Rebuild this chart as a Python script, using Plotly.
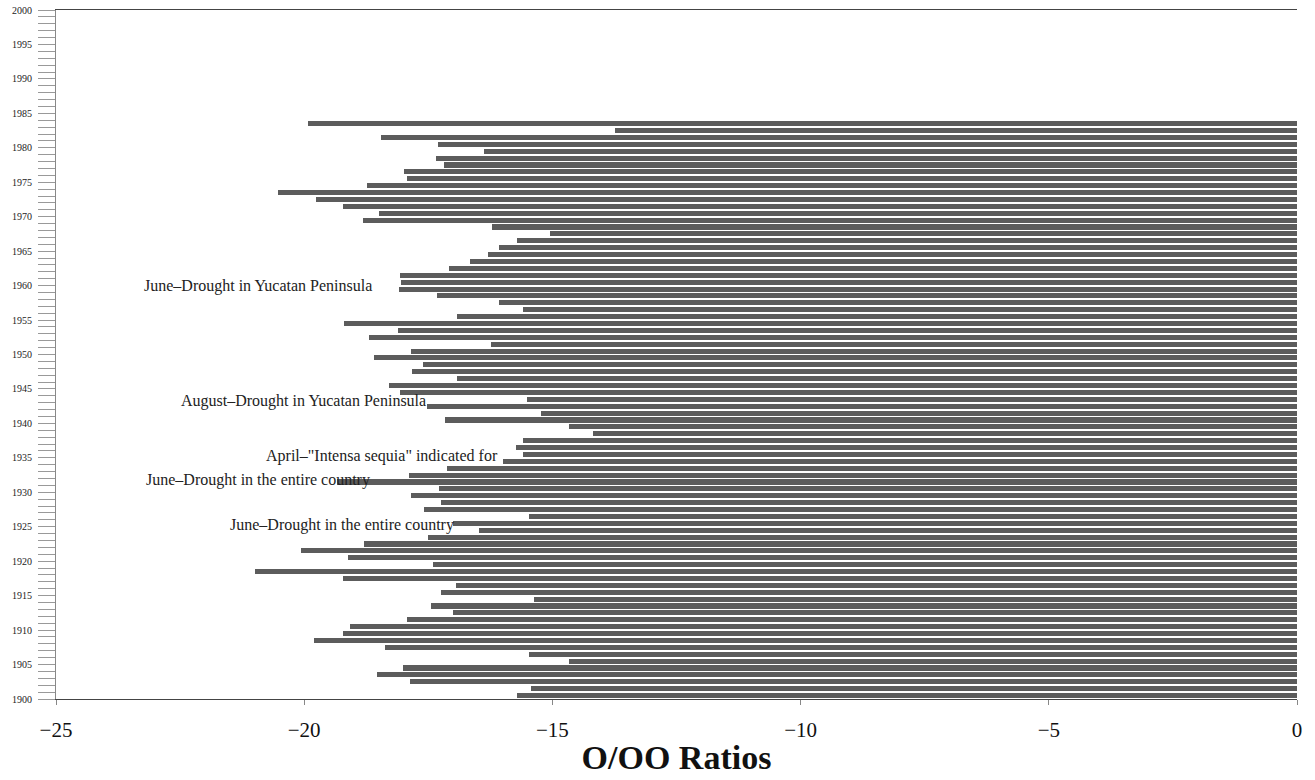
import plotly.graph_objects as go

# Years (bottom to top) and O/OO ratio values
years = list(range(1900, 1984))
values_top_down = [
    -19.93, -13.74, -18.46, -17.30, -16.38, -17.34, -17.18, -17.99, -17.92, -18.73,
    -20.52, -19.76, -19.22, -18.49, -18.81, -16.21, -15.05, -15.71, -16.07, -16.30,
    -16.65, -17.08, -18.07, -18.06, -18.09, -17.33, -16.07, -15.60, -16.93, -19.19,
    -18.11, -18.70, -16.24, -17.85, -18.60, -17.61, -17.83, -16.93, -18.29, -18.07,
    -15.52, -17.52, -15.22, -17.17, -14.67, -14.18, -15.59, -15.74, -15.59, -16.00,
    -17.13, -17.89, -19.33, -17.28, -17.84, -17.24, -17.59, -15.47, -17.00, -16.47,
    -17.50, -18.79, -20.07, -19.11, -17.41, -21.00, -19.21, -16.95, -17.24, -15.37,
    -17.45, -17.01, -17.92, -19.08, -19.21, -19.80, -18.37, -15.47, -14.67, -18.00,
    -18.54, -17.87, -15.44, -15.71,
]
values = values_top_down[::-1]

x_ticks = [-25, -20, -15, -10, -5, 0]
y_ticks = list(range(1900, 2001))
y_ticktext = [str(y) if y % 5 == 0 else "" for y in y_ticks]

annotations_text = [
    ("June\u2013Drought in Yucatan Peninsula", -18.59, 1959.9),
    ("August\u2013Drought in Yucatan Peninsula", -17.50, 1943.2),
    ("April\u2013\"Intensa sequia\" indicated for", -16.05, 1935.2),
    ("June\u2013Drought in the entire country", -18.63, 1931.85),
    ("June\u2013Drought in the entire country", -16.95, 1925.3),
]

SERIF = "Liberation Serif, Times New Roman, serif"

fig = go.Figure()
fig.add_trace(go.Bar(
    x=values, y=years, orientation="h",
    width=0.74, offset=0.13,
    marker=dict(color="#5c5c5c", line=dict(width=0)),
    showlegend=False,
))

for text, xv, yv in annotations_text:
    fig.add_annotation(
        x=xv, y=yv, xref="x", yref="y", text=text, showarrow=False,
        xanchor="right", yanchor="middle",
        font=dict(family=SERIF, size=16, color="#222"),
    )

fig.update_layout(
    width=1315, height=780,
    margin=dict(l=56, r=18, t=10, b=81, autoexpand=False),
    paper_bgcolor="white", plot_bgcolor="white",
    bargap=0,
    xaxis=dict(
        range=[-25, 0], tickvals=x_ticks,
        ticks="outside", ticklen=5, tickcolor="#888",
        ticklabelstandoff=7,
        showgrid=False, zeroline=False,
        showline=True, linecolor="#444", linewidth=1, mirror=True,
        tickfont=dict(family=SERIF, size=21, color="#111"),
        title=dict(text="<b>O/OO Ratios</b>", font=dict(family=SERIF, size=34, color="#111"), standoff=3),
    ),
    yaxis=dict(
        range=[1900, 2000], tickvals=y_ticks, ticktext=y_ticktext,
        ticks="outside", ticklen=17, tickcolor="#999", tickwidth=1,
        ticklabelstandoff=4,
        showgrid=False, zeroline=False,
        showline=True, linecolor="#888", linewidth=1,
        tickfont=dict(family=SERIF, size=10, color="#222"),
    ),
)

fig.write_html("out.html", config={"displayModeBar": False},
               post_script="document.body.style.margin='0';")
